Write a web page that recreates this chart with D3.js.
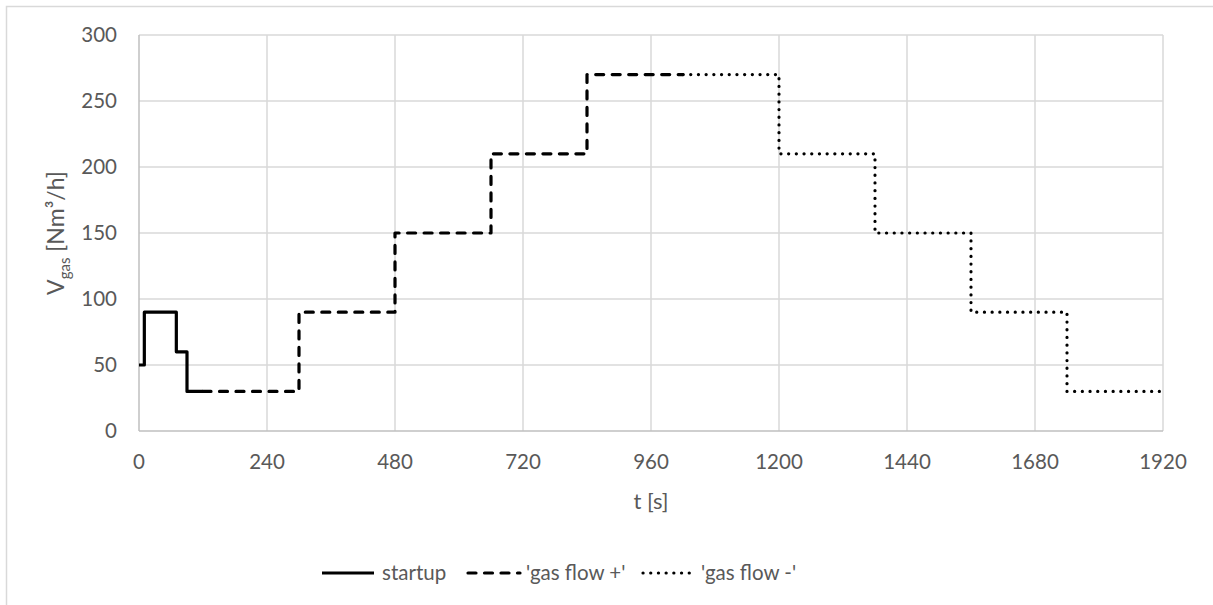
<!DOCTYPE html>
<html>
<head>
<meta charset="utf-8">
<script src="https://cdn.jsdelivr.net/npm/d3@7"></script>
<style>
  body { margin: 0; background: #fff; }
  svg text { font-family: Lato, "Open Sans", sans-serif; fill: #595959; }
</style>
</head>
<body>
<div id="chart"></div>
<script>
// step series: time [s] where each level starts, and the level [Nm³/h]
const startupT = [0, 10, 70, 90, 120];
const startupV = [50, 90, 60, 30, 30];
const gasPlusT = [120, 300, 480, 660, 840, 1020];
const gasPlusV = [30, 90, 150, 210, 270, 270];
const gasMinusT = [1020, 1200, 1380, 1560, 1740, 1920];
const gasMinusV = [270, 210, 150, 90, 30, 30];

const xTicks = [0, 240, 480, 720, 960, 1200, 1440, 1680, 1920];
const yTicks = [0, 50, 100, 150, 200, 250, 300];
const seriesNames = ['startup', "'gas flow +'", "'gas flow -'"];

const width = 1213, height = 605;
const margin = { left: 139, top: 35, right: 50, bottom: 174 };

const svg = d3.select('#chart').append('svg')
    .attr('width', width)
    .attr('height', height);

// outer chart frame
svg.append('rect')
    .attr('x', 6.5).attr('y', 6.5)
    .attr('width', width + 20).attr('height', height + 20)
    .attr('fill', 'none')
    .attr('stroke', '#d9d9d9')
    .attr('stroke-width', 1.5);

const x = d3.scaleLinear().domain([0, 1920]).range([margin.left, width - margin.right]);
const y = d3.scaleLinear().domain([0, 300]).range([height - margin.bottom, margin.top]);

// gridlines
svg.append('g').selectAll('line').data(yTicks.slice(1)).join('line')
    .attr('x1', x(0)).attr('x2', x(1920))
    .attr('y1', d => y(d)).attr('y2', d => y(d))
    .attr('stroke', '#d9d9d9').attr('stroke-width', 1.5);
svg.append('g').selectAll('line').data(xTicks.slice(1)).join('line')
    .attr('x1', d => x(d)).attr('x2', d => x(d))
    .attr('y1', y(0)).attr('y2', y(300))
    .attr('stroke', '#d9d9d9').attr('stroke-width', 1.5);

// axis lines
svg.append('line')
    .attr('x1', x(0)).attr('x2', x(1920)).attr('y1', y(0)).attr('y2', y(0))
    .attr('stroke', '#bfbfbf').attr('stroke-width', 1.5);
svg.append('line')
    .attr('x1', x(0)).attr('x2', x(0)).attr('y1', y(0)).attr('y2', y(300))
    .attr('stroke', '#bfbfbf').attr('stroke-width', 1.5);

// tick labels
svg.append('g').selectAll('text').data(yTicks).join('text')
    .attr('x', x(0) - 22)
    .attr('y', d => y(d))
    .attr('dy', '0.36em')
    .attr('text-anchor', 'end')
    .attr('font-size', 20.5)
    .text(d => d);
svg.append('g').selectAll('text').data(xTicks).join('text')
    .attr('x', d => x(d))
    .attr('y', y(0) + 38)
    .attr('text-anchor', 'middle')
    .attr('font-size', 20.5)
    .text(d => d);

// axis titles
svg.append('text')
    .attr('x', (x(0) + x(1920)) / 2)
    .attr('y', y(0) + 78)
    .attr('text-anchor', 'middle')
    .attr('font-size', 22)
    .text('t [s]');

const yTitle = svg.append('text')
    .attr('transform', `translate(64,${(y(0) + y(300)) / 2}) rotate(-90)`)
    .attr('text-anchor', 'middle')
    .attr('font-size', 23);
yTitle.append('tspan').text('V');
yTitle.append('tspan').attr('font-size', 15).attr('dy', 6).text('gas');
yTitle.append('tspan').attr('dy', -6).text(' [Nm³/h]');

// series
const line = d3.line()
    .x(d => x(d[0]))
    .y(d => y(d[1]))
    .curve(d3.curveStepAfter);

const styles = [
    { dash: null, cap: 'butt' },
    { dash: '8,8.5', cap: 'round' },
    { dash: '0.1,7.6', cap: 'round' }
];
const series = [
    d3.zip(startupT, startupV),
    d3.zip(gasPlusT, gasPlusV),
    d3.zip(gasMinusT, gasMinusV)
];

series.forEach((pts, i) => {
    svg.append('path')
        .attr('d', line(pts))
        .attr('fill', 'none')
        .attr('stroke', '#000')
        .attr('stroke-width', 3.2)
        .attr('stroke-linecap', styles[i].cap)
        .attr('stroke-linejoin', 'round')
        .attr('stroke-dasharray', styles[i].dash);
});

// legend
const legendX = [322, 468, 643];
const legendY = 573;
const legend = svg.append('g').selectAll('g').data(seriesNames).join('g')
    .attr('transform', (d, i) => `translate(${legendX[i]},${legendY})`);
legend.append('line')
    .attr('x1', 0).attr('x2', 52)
    .attr('stroke', '#000')
    .attr('stroke-width', 3.2)
    .attr('stroke-linecap', (d, i) => styles[i].cap)
    .attr('stroke-dasharray', (d, i) => styles[i].dash);
legend.append('text')
    .attr('x', (d, i) => i === 0 ? 60 : 58)
    .attr('dy', '0.36em')
    .attr('font-size', 20.5)
    .text(d => d);
</script>
</body>
</html>
